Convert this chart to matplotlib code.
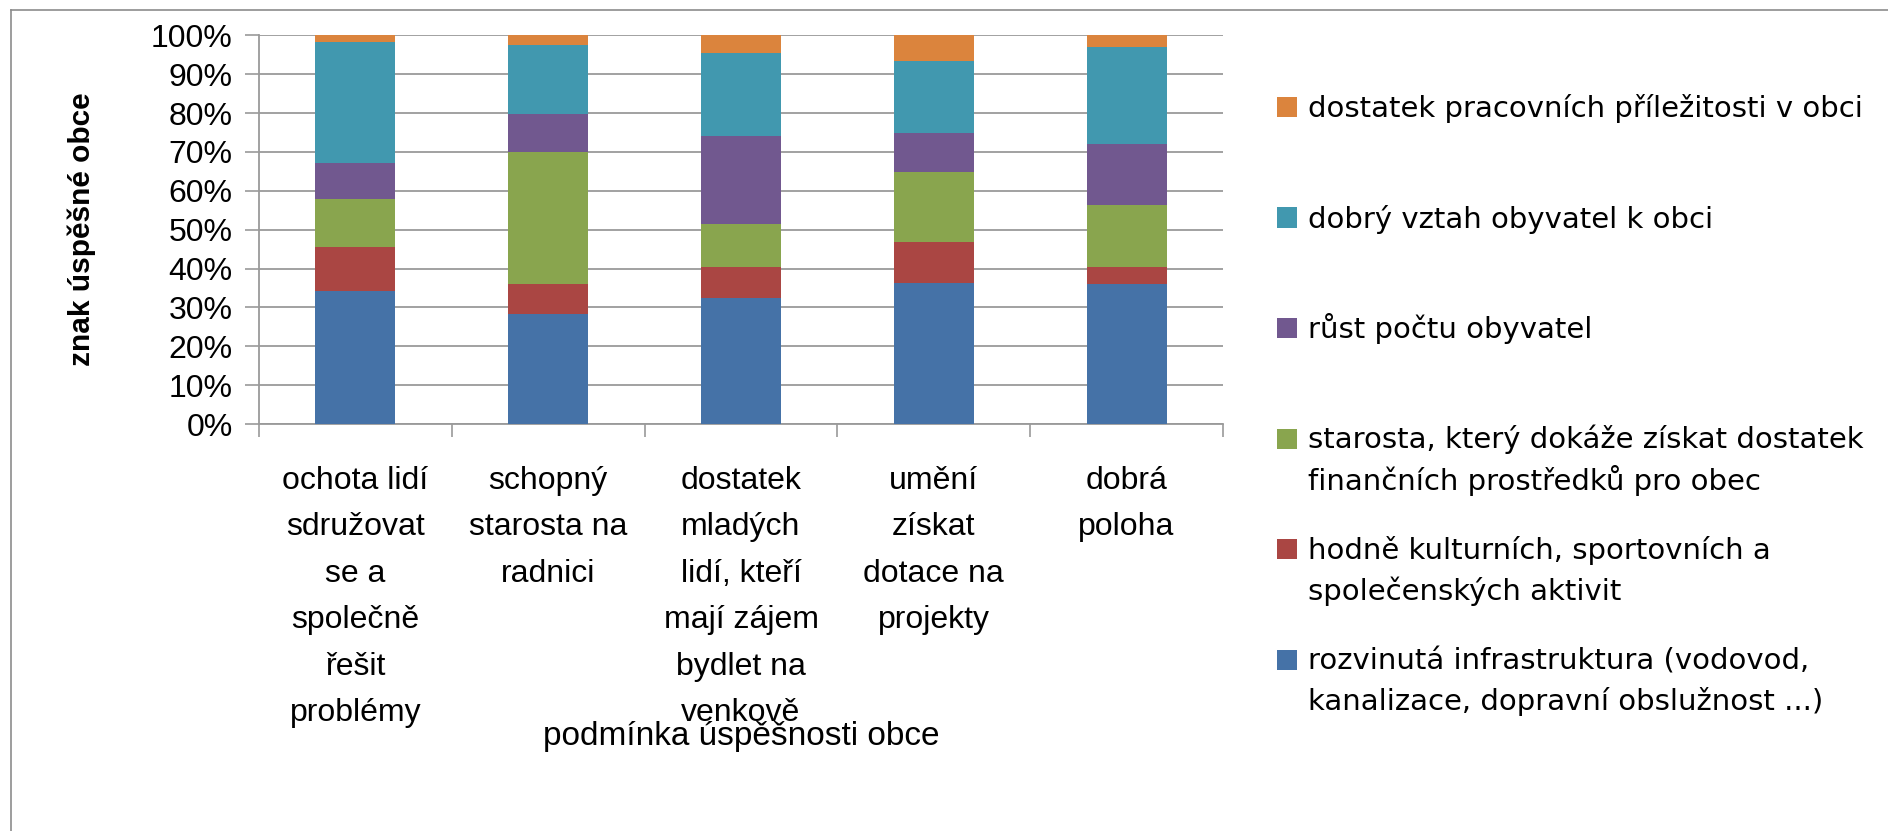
import matplotlib
matplotlib.use("Agg")
import matplotlib.pyplot as plt
from matplotlib.lines import Line2D
from matplotlib.patches import Rectangle
import numpy as np

categories = [
    "ochota lidí\nsdružovat\nse a\nspolečně\nřešit\nproblémy",
    "schopný\nstarosta na\nradnici",
    "dostatek\nmladých\nlidí, kteří\nmají zájem\nbydlet na\nvenkově",
    "umění\nzískat\ndotace na\nprojekty",
    "dobrá\npoloha",
]

# series, bottom to top (percent)
infrastruktura = [34.3, 28.2, 32.3, 36.4, 35.9]
kultura = [11.3, 7.7, 8.0, 10.3, 4.4]
starosta = [12.4, 34.1, 11.2, 18.2, 16.1]
rust = [9.2, 9.8, 22.6, 10.0, 15.7]
vztah = [31.2, 17.7, 21.4, 18.5, 24.9]
prace = [1.6, 2.5, 4.5, 6.6, 3.0]

series_names = [
    "rozvinutá infrastruktura (vodovod,\nkanalizace, dopravní obslužnost ...)",
    "hodně kulturních, sportovních a\nspolečenských aktivit",
    "starosta, který dokáže získat dostatek\nfinančních prostředků pro obec",
    "růst počtu obyvatel",
    "dobrý vztah obyvatel k obci",
    "dostatek pracovních příležitosti v obci",
]
series_values = [infrastruktura, kultura, starosta, rust, vztah, prace]
colors = ["#4572A7", "#AA4643", "#89A54E", "#71588F", "#4198AF", "#DB843D"]

ytick_labels = ["0%", "10%", "20%", "30%", "40%", "50%", "60%", "70%", "80%", "90%", "100%"]

W, H = 1888, 831
fig = plt.figure(figsize=(W / 100, H / 100), dpi=100)

ax_l, ax_r, ax_t, ax_b = 259, 1223, 35.3, 424
ax = fig.add_axes([ax_l / W, 1 - ax_b / H, (ax_r - ax_l) / W, (ax_b - ax_t) / H])

x = np.arange(len(categories))
bottom = np.zeros(len(categories))
for vals, col in zip(series_values, colors):
    ax.bar(x, vals, width=0.415, bottom=bottom, color=col, zorder=3, linewidth=0)
    bottom += np.array(vals)

ax.set_xlim(-0.5, len(categories) - 0.5)
ax.set_ylim(0, 100)

grid_col = "#9a9a9a"
ax.set_yticks(np.arange(0, 101, 10))
ax.set_yticklabels(ytick_labels, family=["Liberation Sans", "DejaVu Sans"], fontsize=23)
ax.yaxis.grid(True, color=grid_col, linewidth=1.3, zorder=0)
ax.tick_params(axis="y", length=10, width=1.2, color=grid_col, pad=9)

ax.set_xticks(x)
ax.set_xticklabels(categories, family=["Liberation Sans", "DejaVu Sans"],
                   fontsize=23, linespacing=1.72)
ax.set_xticks(np.arange(-0.5, len(categories), 1), minor=True)
ax.tick_params(axis="x", which="major", length=0, pad=30)
ax.tick_params(axis="x", which="minor", length=9, width=1.2, color=grid_col)

for s in ["top", "right"]:
    ax.spines[s].set_visible(False)
ax.spines["left"].set_color(grid_col)
ax.spines["left"].set_linewidth(1.3)
ax.spines["bottom"].set_color(grid_col)
ax.spines["bottom"].set_linewidth(1.3)

ax.set_ylabel("znak úspěšné obce", family=["Liberation Sans", "DejaVu Sans"], fontsize=21.5,
              fontweight="bold", va="center")
ax.yaxis.set_label_coords((82 - ax_l) / (ax_r - ax_l), 0.5)
ax.set_xlabel("podmínka úspěšnosti obce", family=["Liberation Sans", "DejaVu Sans"],
              fontsize=24, va="center")
ax.xaxis.set_label_coords(0.5, -(737 - ax_b) / (ax_b - ax_t))

# chart border
border_col = "#8c8c8c"
fig.add_artist(Line2D([11.3 / W, 11.3 / W], [0, 1 - 10.3 / H], color=border_col, lw=1.2,
                      transform=fig.transFigure))
fig.add_artist(Line2D([11.3 / W, 1], [1 - 10.3 / H, 1 - 10.3 / H], color=border_col, lw=1.2,
                      transform=fig.transFigure))

# legend (top entry = top series)
sq = 20
y0, dy, line_dy = 107, 110.5, 41
for i, (name, col) in enumerate(zip(series_names[::-1], colors[::-1])):
    cy = y0 + i * dy
    fig.add_artist(Rectangle((1277 / W, 1 - (cy + sq / 2) / H), sq / W, sq / H,
                             facecolor=col, edgecolor="none", transform=fig.transFigure))
    for j, line in enumerate(name.split("\n")):
        fig.text(1308 / W, 1 - (cy + 10 + j * line_dy) / H, line,
                 family=["DejaVu Sans"], fontsize=21, va="baseline", ha="left")

fig.savefig("out.png", dpi=100)
